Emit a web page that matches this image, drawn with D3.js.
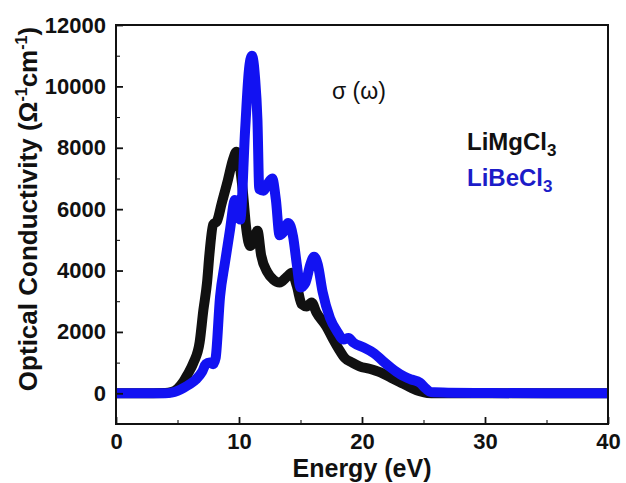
<!DOCTYPE html>
<html>
<head>
<meta charset="utf-8">
<script src="https://cdn.jsdelivr.net/npm/d3@7"></script>
<style>
    body { margin: 0; background: #fff; }
    svg text { font-family: "Liberation Sans", Arial, sans-serif; }
</style>
</head>
<body>
<div id="chart"></div>
<script>
// LiMgCl3 (black)
var energyMg = [0, 2, 4.0, 4.5, 5.0, 5.5, 5.8, 6.3, 6.8, 7.1, 7.4, 7.6, 7.9, 8.2, 8.6, 9.1, 9.5, 9.8, 10.3, 10.6, 10.9, 11.2, 11.5, 11.8, 12.3, 12.8, 13.3, 13.9, 14.3, 14.7, 15.1, 15.5, 15.9, 16.3, 17.1, 17.6, 18.1, 18.6, 19.2, 19.8, 20.6, 21.5, 22.3, 23.1, 23.9, 24.7, 25.3, 26, 30, 35, 40];
var sigmaMg = [0, 0, 10, 40, 150, 390, 600, 1000, 1660, 2700, 3600, 4550, 5500, 5600, 6200, 6950, 7600, 7870, 6630, 5330, 4800, 5000, 5300, 4500, 3950, 3700, 3610, 3800, 3930, 3500, 2900, 2830, 2960, 2630, 2180, 1800, 1450, 1150, 1000, 880, 800, 680, 520, 360, 200, 65, 10, 0, 0, 0, 0];

// LiBeCl3 (blue)
var energyBe = [0, 2, 4.0, 4.5, 5.0, 5.5, 6.0, 6.5, 7.0, 7.3, 7.6, 7.9, 8.1, 8.46, 8.86, 9.27, 9.67, 10.1, 10.5, 10.8, 11.05, 11.3, 11.5, 11.65, 12.0, 12.3, 12.7, 13.0, 13.3, 13.7, 14.0, 14.4, 14.7, 15.0, 15.4, 15.8, 16.1, 16.4, 16.8, 17.4, 18.0, 18.5, 18.9, 19.3, 20.1, 21.0, 21.7, 22.4, 23.1, 24.0, 24.7, 25.2, 25.6, 27, 30, 35, 40];
var sigmaBe = [0, 0, 0, 20, 80, 180, 300, 450, 700, 950, 1000, 950, 1150, 3150, 4260, 5330, 6300, 5660, 8600, 10500, 11000, 10300, 8900, 6650, 6600, 6800, 7000, 6300, 5150, 5300, 5550, 5100, 4200, 3450, 3600, 4200, 4450, 4200, 3300, 2450, 2000, 1750, 1800, 1650, 1500, 1300, 1050, 820, 620, 450, 350, 150, 40, 20, 10, 0, 0];

var xTicks = [0, 10, 20, 30, 40];
var yTicks = [0, 2000, 4000, 6000, 8000, 10000, 12000];

var width = 626,
    height = 483;
var margin = {top: 25, right: 18, bottom: 59, left: 116};
var w = width - margin.left - margin.right,
    h = height - margin.top - margin.bottom;

var svg = d3.select("#chart").append("svg")
    .attr("width", width)
    .attr("height", height);

var g = svg.append("g")
    .attr("transform", "translate(" + margin.left + "," + margin.top + ")");

var x = d3.scaleLinear().domain([0, 40]).range([0, w]);
var y = d3.scaleLinear().domain([-1000, 12000]).range([h, 0]);

g.append("clipPath").attr("id", "clip")
    .append("rect").attr("width", w).attr("height", h);

var line = d3.line()
    .x(function (d) { return x(d[0]); })
    .y(function (d) { return y(d[1]); })
    .curve(d3.curveMonotoneX);

var series = [
    {e: energyMg, s: sigmaMg, color: "#111111"},
    {e: energyBe, s: sigmaBe, color: "#1212f2"}
];

var plot = g.append("g").attr("clip-path", "url(#clip)");
series.forEach(function (sr) {
    var pts = sr.e.map(function (v, i) { return [v, sr.s[i]]; });
    plot.append("path")
        .datum(pts)
        .attr("d", line)
        .attr("fill", "none")
        .attr("stroke", sr.color)
        .attr("stroke-width", 10)
        .attr("stroke-linejoin", "round")
        .attr("stroke-linecap", "round");
});

// minor ticks
g.append("g")
    .attr("transform", "translate(0," + h + ")")
    .call(d3.axisBottom(x).tickValues([5, 15, 25, 35]).tickSize(-4).tickFormat(""))
    .call(function (a) { a.select(".domain").remove(); });
g.append("g")
    .call(d3.axisLeft(y).tickValues([1000, 3000, 5000, 7000, 9000, 11000]).tickSize(-4).tickFormat(""))
    .call(function (a) { a.select(".domain").remove(); });

// main axes
var xAxis = g.append("g")
    .attr("transform", "translate(0," + h + ")")
    .call(d3.axisBottom(x).tickValues(xTicks).tickSize(-7).tickPadding(9).tickFormat(d3.format("d")));
var yAxis = g.append("g")
    .call(d3.axisLeft(y).tickValues(yTicks).tickSize(-7).tickPadding(10).tickFormat(d3.format("d")));

[xAxis, yAxis].forEach(function (a) {
    a.selectAll("text")
        .attr("font-size", 22)
        .attr("font-weight", "bold")
        .attr("fill", "#111");
    a.selectAll("line").attr("stroke-width", 1.8).attr("stroke", "#111");
    a.select(".domain").remove();
});

// frame
g.append("rect")
    .attr("width", w)
    .attr("height", h)
    .attr("fill", "none")
    .attr("stroke", "#111")
    .attr("stroke-width", 2);

// axis titles
svg.append("text")
    .attr("x", margin.left + w / 2)
    .attr("y", 477)
    .attr("text-anchor", "middle")
    .attr("font-size", 25)
    .attr("font-weight", "bold")
    .attr("fill", "#111")
    .text("Energy (eV)");

var yt = svg.append("text")
    .attr("transform", "translate(37,209) rotate(-90)")
    .attr("text-anchor", "middle")
    .attr("font-size", 26)
    .attr("font-weight", "bold")
    .attr("fill", "#111");
yt.append("tspan").text("Optical Conductivity (\u03A9");
yt.append("tspan").attr("font-size", 16).attr("dy", -10).text("-1");
yt.append("tspan").attr("dy", 10).text("cm");
yt.append("tspan").attr("font-size", 16).attr("dy", -10).text("-1");
yt.append("tspan").attr("dy", 10).text(")");

// annotation
svg.append("text")
    .attr("x", 332)
    .attr("y", 99)
    .attr("font-size", 23)
    .attr("fill", "#111")
    .text("\u03C3 (\u03C9)");

// legend labels
var labels = [
    {name: "LiMgCl", sub: "3", color: "#111111", y: 150},
    {name: "LiBeCl", sub: "3", color: "#1c1cc8", y: 186}
];
labels.forEach(function (l) {
    var t = svg.append("text")
        .attr("x", 467)
        .attr("y", l.y)
        .attr("font-size", 24)
        .attr("font-weight", "bold")
        .attr("fill", l.color);
    t.append("tspan").text(l.name);
    t.append("tspan").attr("font-size", 17).attr("dy", 6).text(l.sub);
});
</script>
</body>
</html>
